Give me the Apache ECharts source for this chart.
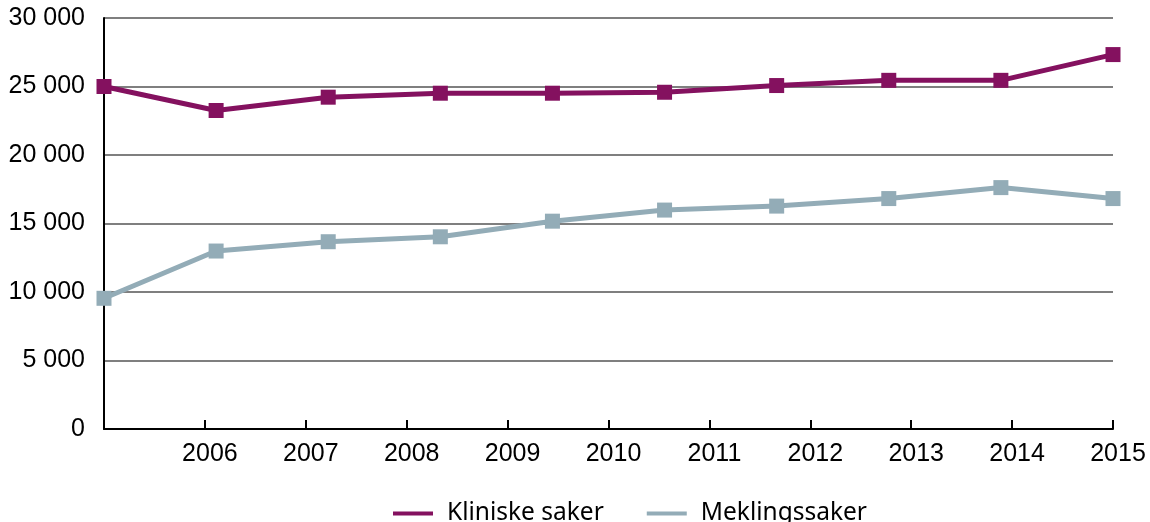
<!DOCTYPE html>
<html>
<head>
<meta charset="utf-8">
<script src="https://cdn.jsdelivr.net/npm/echarts@6/dist/echarts.min.js"></script>
<style>
html,body{margin:0;padding:0;background:#fff;}
#c{width:1150px;height:522px;}
</style>
</head>
<body>
<div id="c"></div>
<script>
const years = ['2005','2006','2007','2008','2009','2010','2011','2012','2013','2014'];
const axisLabels = ['','2006','2007','2008','2009','2010','2011','2012','2013','2014','2015'];
const kliniske = [25000, 23250, 24220, 24510, 24510, 24580, 25070, 25450, 25450, 27330];
const mekling = [9540, 12990, 13670, 14030, 15170, 15980, 16270, 16820, 17620, 16820];
const seriesNames = ['Kliniske saker', 'Meklingssaker'];
const colors = ['#84115f', '#93acb7'];

const fmt = v => String(v).replace(/\B(?=(\d{3})+(?!\d))/g, ' ');
const chart = echarts.init(document.getElementById('c'), null, {renderer:'canvas'});
chart.setOption({
  animation:false,
  color: colors,
  textStyle:{fontFamily:'Liberation Sans'},
  grid:{left:104, right:37, top:18, bottom:93, containLabel:false},
  legend:{
    top:496, left:388,
    itemWidth:40, itemHeight:4, itemGap:43,
    icon:'rect',
    textStyle:{fontFamily:'Noto Sans', fontSize:24.5, color:'#000', padding:[0,0,0,9]},
    data: seriesNames
  },
  xAxis:[
    {type:'category', data:years, boundaryGap:false, show:false},
    {type:'category', data:axisLabels, boundaryGap:false, position:'bottom',
      axisLine:{show:true, onZero:false, lineStyle:{color:'#000', width:2}},
      axisTick:{show:true, inside:true, length:9, lineStyle:{color:'#000', width:2},
        interval:function(i){return i>0;}},
      axisLabel:{color:'#000', fontSize:25, fontFamily:'Liberation Sans', margin:13, interval:0, padding:[0,0,0,10]},
      splitLine:{show:false}
    }
  ],
  yAxis:{
    type:'value', min:0, max:30000, interval:5000,
    axisLine:{show:true, lineStyle:{color:'#000', width:2}},
    axisTick:{show:false},
    axisLabel:{color:'#000', fontSize:25, fontFamily:'Liberation Sans', margin:19, formatter:fmt},
    splitLine:{show:true, lineStyle:{color:'#555', width:1.5}}
  },
  series:[
    {name:seriesNames[0], type:'line', data:kliniske, xAxisIndex:0,
      symbol:'rect', symbolSize:15, lineStyle:{width:5, color:colors[0]},
      itemStyle:{color:colors[0]}, z:3},
    {name:seriesNames[1], type:'line', data:mekling, xAxisIndex:0,
      symbol:'rect', symbolSize:15, lineStyle:{width:5, color:colors[1]},
      itemStyle:{color:colors[1]}, z:2}
  ]
});
</script>
</body>
</html>
